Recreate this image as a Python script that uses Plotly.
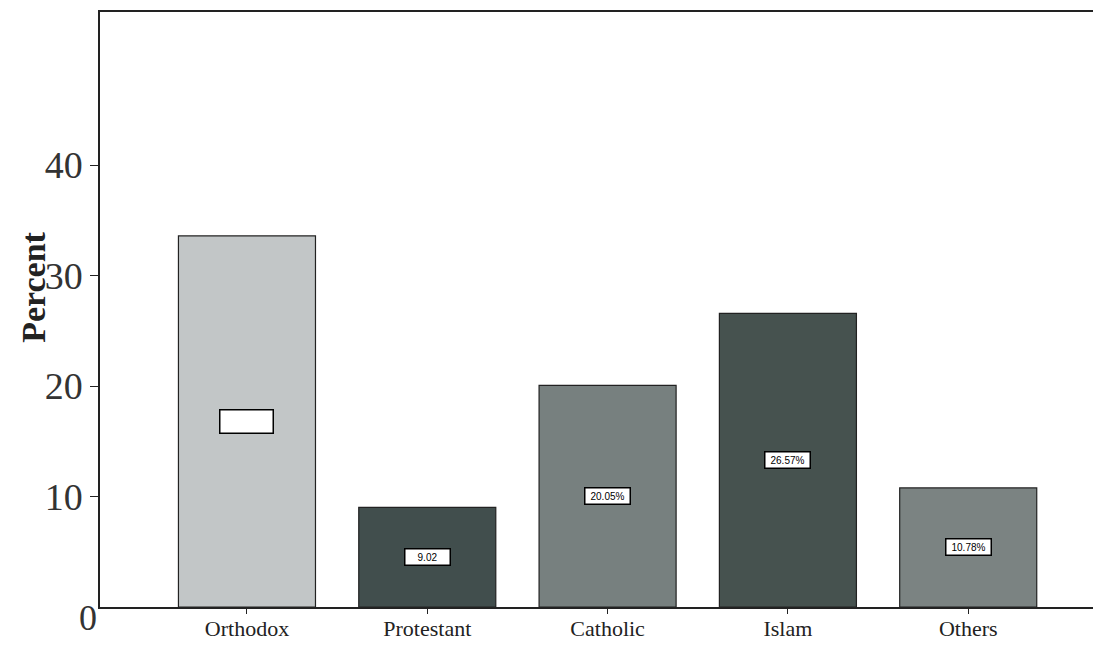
import plotly.graph_objects as go

categories = ["Orthodox", "Protestant", "Catholic", "Islam", "Others"]
percent = [33.58, 9.02, 20.05, 26.57, 10.78]
label_texts = ["", "9.02", "20.05%", "26.57%", "10.78%"]
bar_colors = ["#c2c6c7", "#414e4d", "#77807f", "#46524f", "#7b8382"]
y_ticks = [10, 20, 30, 40]

fig = go.Figure()
fig.add_trace(go.Bar(
    x=list(range(len(categories))),
    y=percent,
    width=0.76,
    marker=dict(color=bar_colors, line=dict(color="#222222", width=1.2)),
    showlegend=False,
    hoverinfo="skip",
))

for i, (v, t) in enumerate(zip(percent, label_texts)):
    fig.add_annotation(
        x=i, y=v / 2, xref="x", yref="y",
        text=t if t else " ",
        showarrow=False,
        font=dict(family="Liberation Sans, Arial", size=10, color="black"),
        bgcolor="white", bordercolor="black", borderwidth=1.5,
        width=50 if not t else 42, height=20 if not t else 13,
        borderpad=1,
    )

serif = "Liberation Serif, Times New Roman, serif"

fig.add_annotation(
    x=-0.0665, y=0.538, xref="paper", yref="paper",
    xanchor="center", yanchor="middle",
    text="<b>Percent</b>", textangle=-90, showarrow=False,
    font=dict(family=serif, size=34, color="#222222"),
)
fig.add_annotation(
    x=-0.012, y=-0.0185, xref="paper", yref="paper",
    xanchor="center", yanchor="middle",
    text="0", showarrow=False,
    font=dict(family=serif, size=36, color="#333333"),
)

fig.update_layout(
    width=1093, height=645,
    margin=dict(l=100, r=0, t=12, b=38),
    paper_bgcolor="white", plot_bgcolor="white",
    xaxis=dict(
        range=[-0.815, 4.692],
        tickvals=list(range(len(categories))),
        ticktext=categories,
        ticks="outside", ticklen=5, tickcolor="#222222",
        showline=True, linecolor="#222222", linewidth=1.5, mirror=True,
        showgrid=False, zeroline=False, automargin=False,
        tickfont=dict(family=serif, size=22, color="#222222"),
        ticklabelstandoff=-4,
    ),
    yaxis=dict(
        range=[0, 53.85],
        tickvals=y_ticks,
        ticks="outside", ticklen=8, tickcolor="#222222",
        showline=True, linecolor="#222222", linewidth=1.5,
        showgrid=False, zeroline=False, automargin=False,
        tickfont=dict(family=serif, size=38, color="#333333"),
    ),
)

fig.write_html("out.html")
